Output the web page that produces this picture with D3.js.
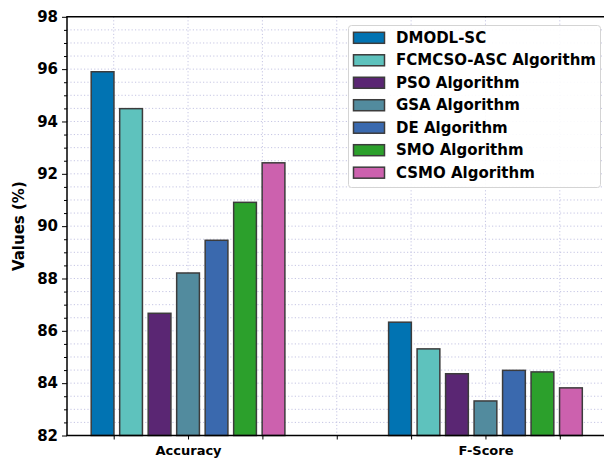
<!DOCTYPE html>
<html>
<head>
<meta charset="utf-8">
<script src="https://cdn.jsdelivr.net/npm/d3@7"></script>
<style>
  html, body { margin: 0; padding: 0; background: #fff; }
  svg { display: block; }
  text { font-family: "DejaVu Sans", sans-serif; font-weight: bold; fill: #000; }
</style>
</head>
<body>
<svg id="chart" width="604" height="459"></svg>
<script>
// Metrics on the x axis
const categories = ["Accuracy", "F-Score"];
// Methods compared (one bar each per metric)
const methods = ["DMODL-SC", "FCMCSO-ASC Algorithm", "PSO Algorithm", "GSA Algorithm",
                 "DE Algorithm", "SMO Algorithm", "CSMO Algorithm"];
// Values (%) per method: [Accuracy, F-Score]
const dmodlSc   = [95.90, 86.33];
const fcmcsoAsc = [94.49, 85.31];
const pso       = [86.67, 84.36];
const gsa       = [88.21, 83.32];
const de        = [89.46, 84.49];
const smo       = [90.91, 84.43];
const csmo      = [92.42, 83.82];
const seriesValues = [dmodlSc, fcmcsoAsc, pso, gsa, de, smo, csmo];
const colors = ["#0173b2", "#5ec2bd", "#5a2673", "#528b9e", "#3a69ae", "#2ca02c", "#cc61ae"];
const yTicks = [82, 84, 86, 88, 90, 92, 94, 96, 98];

const svg = d3.select("#chart");
const plotL = 67, plotR = 606.5, plotT = 16.8, plotB = 435.5;

const x = d3.scaleLinear().domain([-0.407, 1.407]).range([plotL, plotR]);
const y = d3.scaleLinear().domain([82, 98]).range([plotB, plotT]);

const pitch = 0.0958, barW = 0.0765;

// Grid: dotted lines at every minor tick
const grid = svg.append("g");
const yMinor = d3.range(82.5, 98, 0.5);
grid.selectAll("line.h").data(yMinor).join("line")
  .attr("x1", plotL).attr("x2", plotR)
  .attr("y1", d => y(d)).attr("y2", d => y(d))
  .attr("stroke", "#b4b4dc").attr("stroke-width", 1)
  .attr("stroke-dasharray", "1.2,2.2").attr("opacity", 0.75);
const xMinor = d3.range(-0.25, 1.5, 0.25);
grid.selectAll("line.v").data(xMinor).join("line")
  .attr("y1", plotT).attr("y2", plotB)
  .attr("x1", d => x(d)).attr("x2", d => x(d))
  .attr("stroke", "#b4b4dc").attr("stroke-width", 1)
  .attr("stroke-dasharray", "1.2,2.2").attr("opacity", 0.75);

// Bars
const bars = svg.append("g");
seriesValues.forEach((vals, i) => {
  bars.selectAll(null).data(vals).join("rect")
    .attr("x", (d, j) => x(j + (i - 3) * pitch - barW / 2))
    .attr("width", x(barW) - x(0))
    .attr("y", d => y(d))
    .attr("height", d => y(82) - y(d))
    .attr("fill", colors[i])
    .attr("stroke", "#3c3c3c")
    .attr("stroke-width", 1.5);
});

// Y axis with minor ticks
const yAxis = svg.append("g").attr("transform", `translate(${plotL},0)`);
yAxis.call(d3.axisLeft(y).tickValues(d3.range(82.5, 98, 0.5).filter(v => v % 2 !== 0))
  .tickSize(3).tickFormat(""));
yAxis.call(g => g.select(".domain").remove());
const yMaj = svg.append("g").attr("transform", `translate(${plotL},0)`)
  .call(d3.axisLeft(y).tickValues(yTicks).tickSize(5).tickPadding(4).tickFormat(d3.format("d")));
yMaj.select(".domain").remove();
yMaj.selectAll("text").attr("font-size", 15).attr("font-family", "DejaVu Sans")
  .attr("font-weight", "bold").attr("fill", "#000");
svg.selectAll(".tick line").attr("stroke", "#000").attr("stroke-width", 1);

// X axis: minor ticks every 0.25, labels at the metrics
const xAxis = svg.append("g").attr("transform", `translate(0,${plotB})`)
  .call(d3.axisBottom(x).tickValues(xMinor).tickSize(4)
    .tickFormat(d => (Math.abs(d - Math.round(d)) < 1e-9 && d >= 0 && d <= 1) ? categories[Math.round(d)] : ""));
xAxis.select(".domain").remove();
xAxis.selectAll("line").attr("stroke", "#000").attr("stroke-width", 1);
xAxis.selectAll("text").attr("font-size", 13).attr("font-family", "DejaVu Sans")
  .attr("font-weight", "bold").attr("fill", "#000").attr("dy", null).attr("y", 19.5);

// Spines
svg.append("line").attr("x1", plotL).attr("x2", plotL).attr("y1", plotT).attr("y2", plotB)
  .attr("stroke", "#000").attr("stroke-width", 1.5);
svg.append("line").attr("x1", plotL - 0.75).attr("x2", plotR).attr("y1", plotB).attr("y2", plotB)
  .attr("stroke", "#000").attr("stroke-width", 1.5);
svg.append("line").attr("x1", plotL - 0.75).attr("x2", plotR).attr("y1", plotT).attr("y2", plotT)
  .attr("stroke", "#000").attr("stroke-width", 1.5);
svg.append("line").attr("x1", plotR).attr("x2", plotR).attr("y1", plotT).attr("y2", plotB)
  .attr("stroke", "#000").attr("stroke-width", 1.5);

// Y axis title
svg.append("text")
  .attr("transform", `translate(19,${(plotT + plotB) / 2}) rotate(-90)`)
  .attr("text-anchor", "middle").attr("dominant-baseline", "central")
  .attr("font-size", 15).text("Values (%)");

// Legend
const lg = svg.append("g");
lg.append("rect").attr("x", 348.5).attr("y", 25.5).attr("width", 252).attr("height", 162)
  .attr("rx", 3).attr("fill", "#fff").attr("fill-opacity", 0.9)
  .attr("stroke", "#d4d4d4").attr("stroke-width", 1);
methods.forEach((m, i) => {
  const cy = 37.8 + i * 22.48;
  lg.append("rect").attr("x", 353.5).attr("y", cy - 5.5).attr("width", 31).attr("height", 11)
    .attr("fill", colors[i]).attr("stroke", "#3c3c3c").attr("stroke-width", 1.5);
  lg.append("text").attr("x", 396).attr("y", cy).attr("dominant-baseline", "central")
    .attr("font-size", 15).text(m);
});
</script>
</body>
</html>
